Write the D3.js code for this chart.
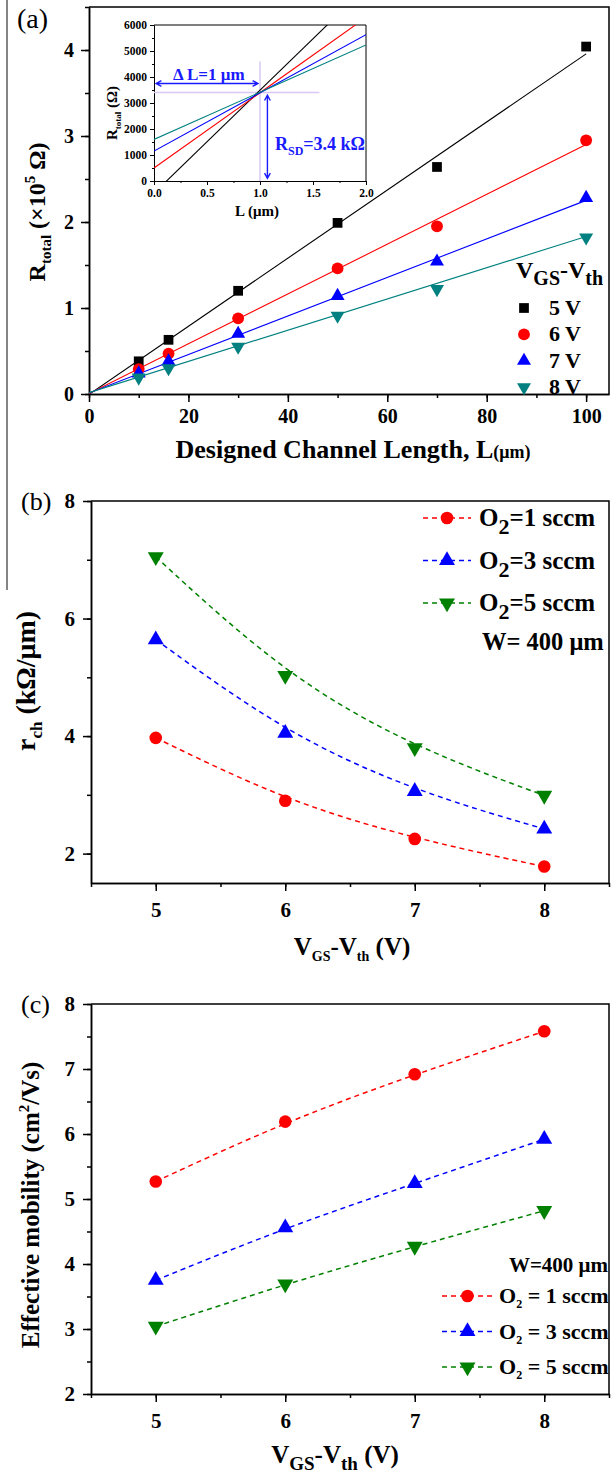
<!DOCTYPE html>
<html>
<head>
<meta charset="utf-8">
<script src="https://cdn.jsdelivr.net/npm/d3@7"></script>
<style>
  body { margin: 0; background: #fff; }
  svg { display: block; }
  text { font-family: "Liberation Serif", "Times New Roman", serif; font-weight: bold; fill: #000; }
  .plain { font-weight: normal; }
</style>
</head>
<body>
<svg id="fig" width="611" height="1476"></svg>
<script>
// ---------- data: panel (a) total resistance vs channel length ----------
const lengths = [10, 16, 30, 50, 70, 100];                 // µm
const biasLabels = ["5 V", "6 V", "7 V", "8 V"];
const rTotal5V = [0.38, 0.63, 1.20, 1.99, 2.64, 4.04];     // ×10^5 Ω
const rTotal6V = [0.29, 0.47, 0.88, 1.46, 1.95, 2.95];
const rTotal7V = [0.24, 0.38, 0.70, 1.14, 1.54, 2.28];
const rTotal8V = [0.19, 0.30, 0.55, 0.91, 1.22, 1.82];
// linear fits R = slope·L + intercept  (Ω/µm, Ω)
const fitSlope = [3960, 2895, 2240, 1815];
const fitIntercept = [-470, 500, 1150, 1600];
const rSD = 3400;      // Ω, crossing point
const deltaL = 1;      // µm

// ---------- data: panels (b) and (c) ----------
const overdrive = [5, 6, 7, 8];                            // V_GS - V_th (V)
const o2Flows = [1, 3, 5];                                 // sccm
const rch1 = [3.97, 2.90, 2.25, 1.78];                     // kΩ/µm
const rch3 = [5.64, 4.05, 3.06, 2.42];
const rch5 = [7.05, 5.03, 3.80, 2.99];
const mu1 = [5.27, 6.19, 6.92, 7.58];                      // cm²/Vs
const mu3 = [3.75, 4.56, 5.24, 5.92];
const mu5 = [3.04, 3.69, 4.27, 4.82];

// ---------- tick labels ----------
const aXTicks = [0, 20, 40, 60, 80, 100];
const aYTicks = [0, 1, 2, 3, 4];
const insetXTicks = [0, 0.5, 1.0, 1.5, 2.0];
const insetYTicks = [0, 1000, 2000, 3000, 4000, 5000, 6000];
const vTicks = [5, 6, 7, 8];
const bYTicks = [2, 4, 6, 8];
const cYTicks = [2, 3, 4, 5, 6, 7, 8];

const svg = d3.select("#fig");
svg.append("rect").attr("width", 611).attr("height", 1476).attr("fill", "#fff");

const sq = d3.symbolSquare, ci = d3.symbolCircle, tri = d3.symbolTriangle;
function marker(g, type, size, color, x, y, down) {
  g.append("path")
    .attr("d", d3.symbol().type(type).size(size)())
    .attr("transform", `translate(${x},${y})${down ? " rotate(180)" : ""}`)
    .attr("fill", color);
}

// axes with major (labelled) and minor ticks, plus a closing frame
function drawAxes(g, x, y, o) {
  const y0 = y.range()[0], y1 = y.range()[1];
  const x0 = x.range()[0], x1 = x.range()[1];
  const style = sel => {
    sel.selectAll("path,line").attr("stroke", "#000").attr("stroke-width", o.sw);
    sel.selectAll("text").attr("font-size", o.fs).attr("fill", "#000");
  };
  g.append("g").attr("transform", `translate(0,${y0})`)
    .call(d3.axisBottom(x).tickValues(o.xMinor).tickSize(o.minor).tickSizeOuter(0).tickFormat(""))
    .call(style);
  g.append("g").attr("transform", `translate(0,${y0})`)
    .call(d3.axisBottom(x).tickValues(o.xMajor).tickSize(o.major).tickSizeOuter(0)
      .tickPadding(o.xPad).tickFormat(o.xFmt))
    .call(style);
  g.append("g").attr("transform", `translate(${x0},0)`)
    .call(d3.axisLeft(y).tickValues(o.yMinor).tickSize(o.minor).tickSizeOuter(0).tickFormat(""))
    .call(style);
  g.append("g").attr("transform", `translate(${x0},0)`)
    .call(d3.axisLeft(y).tickValues(o.yMajor).tickSize(o.major).tickSizeOuter(0)
      .tickPadding(o.yPad).tickFormat(o.yFmt))
    .call(style);
  g.append("path")
    .attr("d", `M${x0},${y1}H${x1}V${y0}`)
    .attr("fill", "none").attr("stroke", "#000").attr("stroke-width", o.sw);
}
const range = (a, b, s) => d3.range(a, b + s / 2, s);

// thin border line on the far left of the figure
svg.append("line").attr("x1", 7).attr("x2", 7).attr("y1", 0).attr("y2", 590)
  .attr("stroke", "#333").attr("stroke-width", 1.2);

// =================== Panel (a) ===================
const ga = svg.append("g");
const ax = d3.scaleLinear().domain([0, 104.6]).range([89, 609]);
const ay = d3.scaleLinear().domain([0, 4.5]).range([394, 7]);
drawAxes(ga, ax, ay, {
  xMajor: aXTicks, xMinor: range(0, 100, 10), yMajor: aYTicks, yMinor: range(0, 4.5, 0.5),
  major: 8, minor: 4, xPad: 7, yPad: 7, fs: 20, sw: 1.5,
  xFmt: d3.format("d"), yFmt: d3.format("d")
});

const aSeries = [rTotal5V, rTotal6V, rTotal7V, rTotal8V];
const aColors = ["#000000", "#ff0000", "#0000ff", "#008080"];
const aShapes = [[sq, 95, false], [ci, 110, false], [tri, 85, false], [tri, 85, true]];

const aClip = ga.append("clipPath").attr("id", "clipA");
aClip.append("rect").attr("x", 89).attr("y", 7).attr("width", 520).attr("height", 387);

// fitted lines
aSeries.forEach((s, i) => {
  const line = d3.line()
    .x(L => ax(L))
    .y(L => ay((fitSlope[i] * L + fitIntercept[i]) / 1e5));
  ga.append("path").attr("d", line([0, 100]))
    .attr("clip-path", "url(#clipA)")
    .attr("fill", "none").attr("stroke", aColors[i]).attr("stroke-width", 1.1);
});
// measured points
aSeries.forEach((s, i) => {
  s.forEach((v, j) => marker(ga, aShapes[i][0], aShapes[i][1], aColors[i], ax(lengths[j]), ay(v), aShapes[i][2]));
});

// axis titles
ga.append("text").attr("x", 353).attr("y", 458).attr("text-anchor", "middle").attr("font-size", 26)
  .text("Designed Channel Length, L")
  .append("tspan").attr("font-size", 18).text("(μm)");
const aYT = ga.append("text").attr("transform", "translate(45,212) rotate(-90)")
  .attr("text-anchor", "middle").attr("font-size", 24);
aYT.append("tspan").text("R");
aYT.append("tspan").attr("font-size", 15).attr("dy", 6).text("total");
aYT.append("tspan").attr("dy", -6).text(" (×10");
aYT.append("tspan").attr("font-size", 15).attr("dy", -10).text("5");
aYT.append("tspan").attr("dy", 10).text(" Ω)");

ga.append("text").attr("class", "plain").attr("x", 17).attr("y", 28).attr("font-size", 28).text("(a)");

// legend
const lg = ga.append("g");
const lt = lg.append("text").attr("x", 516).attr("y", 278).attr("font-size", 24);
lt.append("tspan").text("V");
lt.append("tspan").attr("font-size", 20).attr("dy", 7).text("GS");
lt.append("tspan").attr("dy", -7).text("-V");
lt.append("tspan").attr("font-size", 20).attr("dy", 7).text("th");
biasLabels.forEach((lab, i) => {
  const yy = 308 + i * 26.4;
  marker(lg, aShapes[i][0], aShapes[i][1], aColors[i], 524, yy, aShapes[i][2]);
  lg.append("text").attr("x", 549).attr("y", yy + 7).attr("font-size", 22).text(lab);
});

// ----- inset: zoom near L = 0..2 µm -----
const gi = ga.append("g");
const ix = d3.scaleLinear().domain([0, 2]).range([154, 366]);
const iy = d3.scaleLinear().domain([0, 6000]).range([181, 25]);
gi.append("rect").attr("x", 154).attr("y", 25).attr("width", 212).attr("height", 156).attr("fill", "#fff");
drawAxes(gi, ix, iy, {
  xMajor: insetXTicks, xMinor: range(0, 2, 0.25), yMajor: insetYTicks, yMinor: range(0, 6000, 500),
  major: 4, minor: 2, xPad: 4, yPad: 3, fs: 11.5, sw: 1,
  xFmt: d3.format(".1f"), yFmt: d3.format("d")
});
const iClip = gi.append("clipPath").attr("id", "clipI");
iClip.append("rect").attr("x", 154).attr("y", 25).attr("width", 212).attr("height", 156);

// guide lines through the crossing point
const lav = "#d9c8f5";
gi.append("line").attr("x1", ix(deltaL)).attr("x2", ix(deltaL)).attr("y1", iy(4600)).attr("y2", iy(0))
  .attr("stroke", lav).attr("stroke-width", 1.5);
gi.append("line").attr("x1", ix(0)).attr("x2", ix(1.56)).attr("y1", iy(rSD)).attr("y2", iy(rSD))
  .attr("stroke", lav).attr("stroke-width", 1.5);

fitSlope.forEach((m, i) => {
  const line = d3.line().x(L => ix(L)).y(L => iy(m * L + fitIntercept[i]));
  gi.append("path").attr("d", line([0, 2])).attr("clip-path", "url(#clipI)")
    .attr("fill", "none").attr("stroke", aColors[i]).attr("stroke-width", 1.1);
});

// double-headed arrows
const blue = "#1a1aff";
function dblArrow(g, x1, y1, x2, y2) {
  const a = Math.atan2(y2 - y1, x2 - x1), h = 6, w = 0.5;
  const head = (x, y, dir) => {
    const b = a + (dir ? Math.PI : 0);
    return `M${x + h * Math.cos(b + w)},${y + h * Math.sin(b + w)}L${x},${y}L${x + h * Math.cos(b - w)},${y + h * Math.sin(b - w)}`;
  };
  g.append("path")
    .attr("d", `M${x1},${y1}L${x2},${y2}` + head(x1, y1, false) + head(x2, y2, true))
    .attr("fill", "none").attr("stroke", blue).attr("stroke-width", 1.4);
}
dblArrow(gi, ix(0.02), iy(3750), ix(0.98), iy(3750));
dblArrow(gi, ix(1.07), iy(3300), ix(1.07), iy(100));
gi.append("text").attr("x", 173).attr("y", 80).attr("font-size", 17).style("fill", blue).text("Δ L=1 μm");
const rs = gi.append("text").attr("x", 275).attr("y", 150).attr("font-size", 18).style("fill", blue);
rs.append("tspan").text("R");
rs.append("tspan").attr("font-size", 12).attr("dy", 5).text("SD");
rs.append("tspan").attr("dy", -5).text("=3.4 kΩ");

gi.append("text").attr("x", 257).attr("y", 216).attr("text-anchor", "middle").attr("font-size", 15)
  .text("L (μm)");
const iyt = gi.append("text").attr("transform", "translate(117,113) rotate(-90)")
  .attr("text-anchor", "middle").attr("font-size", 15);
iyt.append("tspan").text("R");
iyt.append("tspan").attr("font-size", 9).attr("dy", 4).text("total");
iyt.append("tspan").attr("dy", -4).text(" (Ω)");

// =================== Panels (b) and (c) ===================
const o2Colors = ["#ff0000", "#0000ff", "#008000"];
const o2Shapes = [[ci, 125, false], [tri, 110, false], [tri, 110, true]];
const vx = d3.scaleLinear().domain([4.5, 8.5]).range([91, 609]);

function seriesPanel(g, y, data) {
  data.forEach((s, i) => {
    const line = d3.line().x((d, j) => vx(overdrive[j])).y(d => y(d)).curve(d3.curveBasis);
    g.append("path").attr("d", line(s)).attr("fill", "none")
      .attr("stroke", o2Colors[i]).attr("stroke-width", 1.5).attr("stroke-dasharray", "5,4");
    s.forEach((v, j) => marker(g, o2Shapes[i][0], o2Shapes[i][1], o2Colors[i], vx(overdrive[j]), y(v), o2Shapes[i][2]));
  });
}
function legendEntry(g, i, xl, xr, yy) {
  g.append("line").attr("x1", xl).attr("x2", xr).attr("y1", yy).attr("y2", yy)
    .attr("stroke", o2Colors[i]).attr("stroke-width", 1.5).attr("stroke-dasharray", "5,4");
  marker(g, o2Shapes[i][0], o2Shapes[i][1], o2Colors[i], (xl + xr) / 2, yy, o2Shapes[i][2]);
}
function vTitle(g, x, y, fs, sub, dsub) {
  const t = g.append("text").attr("x", x).attr("y", y).attr("text-anchor", "middle").attr("font-size", fs);
  t.append("tspan").text("V");
  t.append("tspan").attr("font-size", sub).attr("dy", dsub).text("GS");
  t.append("tspan").attr("dy", -dsub).text("-V");
  t.append("tspan").attr("font-size", sub).attr("dy", dsub).text("th");
  t.append("tspan").attr("dy", -dsub).text(" (V)");
}

// ----- (b) channel resistance per length -----
const gb = svg.append("g");
const by = d3.scaleLinear().domain([1.5, 8]).range([883, 501]);
drawAxes(gb, vx, by, {
  xMajor: vTicks, xMinor: range(4.5, 8.5, 0.5), yMajor: bYTicks, yMinor: range(2, 8, 1),
  major: 8, minor: 4, xPad: 11, yPad: 8, fs: 21, sw: 1.5,
  xFmt: d3.format("d"), yFmt: d3.format("d")
});
seriesPanel(gb, by, [rch1, rch3, rch5]);
gb.append("text").attr("class", "plain").attr("x", 21).attr("y", 510).attr("font-size", 26).text("(b)");
const byt = gb.append("text").attr("transform", "translate(35,681) rotate(-90)")
  .attr("text-anchor", "middle").attr("font-size", 28);
byt.append("tspan").text("r");
byt.append("tspan").attr("font-size", 17).attr("dy", 7).text("ch");
byt.append("tspan").attr("dy", -7).text(" (kΩ/μm)");
vTitle(gb, 352, 955, 25, 14, 6);
o2Flows.forEach((f, i) => {
  const yy = 518 + i * 42.5;
  legendEntry(gb, i, 423, 471, yy);
  const t = gb.append("text").attr("x", 479).attr("y", yy + 8).attr("font-size", 25);
  t.append("tspan").text("O");
  t.append("tspan").attr("font-size", 22).attr("dy", 8).text("2");
  t.append("tspan").attr("dy", -8).text(`=${f} sccm`);
});
gb.append("text").attr("x", 482).attr("y", 650).attr("font-size", 24.5).text("W= 400 μm");

// ----- (c) effective mobility -----
const gc = svg.append("g");
const cy = d3.scaleLinear().domain([2, 8]).range([1394, 1004]);
drawAxes(gc, vx, cy, {
  xMajor: vTicks, xMinor: range(4.5, 8.5, 0.5), yMajor: cYTicks, yMinor: range(2, 8, 0.5),
  major: 8, minor: 4, xPad: 11, yPad: 8, fs: 21, sw: 1.5,
  xFmt: d3.format("d"), yFmt: d3.format("d")
});
seriesPanel(gc, cy, [mu1, mu3, mu5]);
gc.append("text").attr("class", "plain").attr("x", 21).attr("y", 1013).attr("font-size", 26).text("(c)");
const cyt = gc.append("text").attr("transform", "translate(39,1205) rotate(-90)")
  .attr("text-anchor", "middle").attr("font-size", 25);
cyt.append("tspan").text("Effective mobility (cm");
cyt.append("tspan").attr("font-size", 15).attr("dy", -10).text("2");
cyt.append("tspan").attr("dy", 10).text("/Vs)");
vTitle(gc, 335, 1463, 25, 19, 7);
gc.append("text").attr("x", 608).attr("y", 1272).attr("text-anchor", "end").attr("font-size", 21).text("W=400 μm");
o2Flows.forEach((f, i) => {
  const yy = 1296 + i * 35.5;
  legendEntry(gc, i, 442, 493, yy);
  const t = gc.append("text").attr("x", 499).attr("y", yy + 7).attr("font-size", 22);
  t.append("tspan").text("O");
  t.append("tspan").attr("font-size", 12).attr("dy", 5).text("2");
  t.append("tspan").attr("dy", -5).text(` = ${f} sccm`);
});
</script>
</body>
</html>
